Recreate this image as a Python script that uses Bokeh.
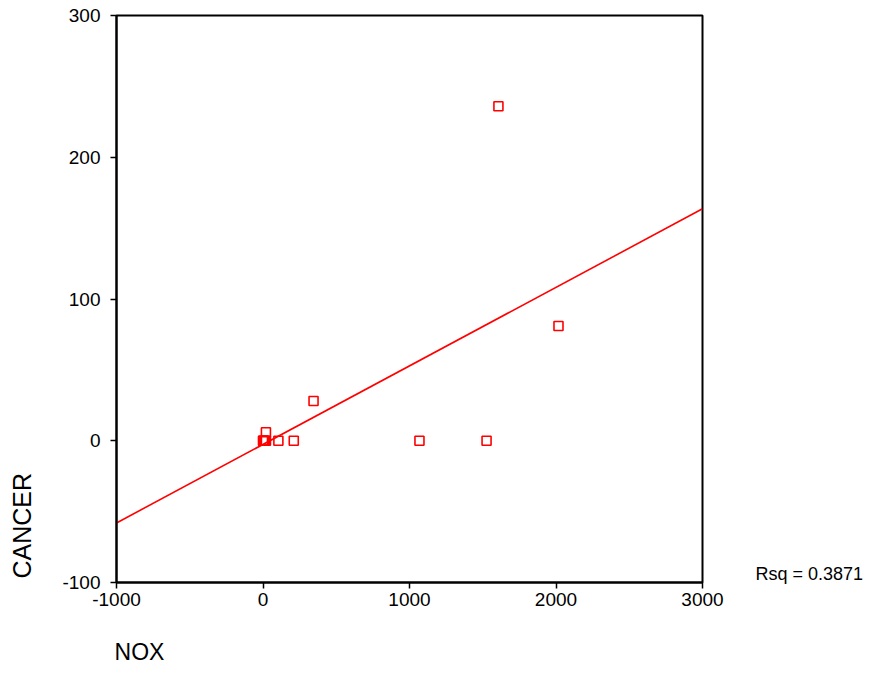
import numpy as np
from bokeh.plotting import figure
from bokeh.models import Range1d, FixedTicker, ColumnDataSource, LinearAxis
from bokeh.embed import file_html
from bokeh.resources import INLINE

# Data
nox = [0, 2, 8, 15, 20, 20, 105, 210, 345, 1068, 1526, 1607, 2017]
cancer = [0, 0, 0, 0, 0, 6, 0, 0, 28, 0, 0, 236, 81]
x_ticks = [-1000, 0, 1000, 2000, 3000]
y_ticks = [-100, 0, 100, 200, 300]
x_range = (-1000, 3000)
y_range = (-100, 300)
x_title = "NOX"
y_title = "CANCER"
rsq_text = "Rsq = 0.3871"
# anchors (data units) for the free-standing texts
x_title_anchor = -843
y_title_anchor = -60
rsq_anchor = -94

FONT = "Liberation Sans"

p = figure(width=867, height=667, output_backend="svg", toolbar_location=None,
           x_range=Range1d(*x_range), y_range=Range1d(*y_range),
           min_border_left=116, min_border_right=165, min_border_top=15, min_border_bottom=85)
p.xgrid.visible = False
p.ygrid.visible = False
p.outline_line_color = "black"
p.outline_line_width = 2
p.background_fill_color = "white"
p.border_fill_color = "white"

for ax, ticks in ((p.xaxis[0], x_ticks), (p.yaxis[0], y_ticks)):
    ax.ticker = FixedTicker(ticks=ticks)
    ax.major_tick_in = 0
    ax.major_tick_out = 6
    ax.minor_tick_in = 0
    ax.minor_tick_out = 0
    ax.major_tick_line_width = 1.5
    ax.major_tick_line_color = "black"
    ax.axis_line_width = 2
    ax.axis_line_color = "black"
    ax.major_label_text_font = FONT
    ax.major_label_text_font_size = "19px"
    ax.major_label_text_color = "black"
    ax.major_label_overrides = {t: str(t) for t in ticks}
p.yaxis[0].major_label_standoff = 10
p.xaxis[0].major_label_standoff = 4

# regression line from data
slope, intercept = np.polyfit(np.array(nox, float), np.array(cancer, float), 1)
lx = np.array(x_range, float)
p.line(lx, slope * lx + intercept, line_color="red", line_width=1.6)

src = ColumnDataSource(dict(x=nox, y=cancer))
p.scatter("x", "y", source=src, marker="square", size=9, fill_alpha=0,
          line_color="red", line_width=1.6)


def text_axis(anchor, text, size, standoff, orientation="horizontal"):
    return LinearAxis(ticker=FixedTicker(ticks=[anchor]),
                      major_label_overrides={anchor: text},
                      axis_line_color=None, major_tick_line_color=None,
                      major_tick_out=0, major_tick_in=0, minor_tick_out=0, minor_tick_in=0,
                      major_label_standoff=standoff, major_label_text_font=FONT,
                      major_label_orientation=orientation,
                      major_label_text_font_size=size, major_label_text_color="black")


p.add_layout(text_axis(y_title_anchor, y_title, "25px", 23, "vertical"), "left")
p.add_layout(text_axis(x_title_anchor, x_title, "23px", 30), "below")
p.add_layout(text_axis(rsq_anchor, rsq_text, "18px", 53), "right")

open("out.html", "w").write(file_html(p, INLINE))
